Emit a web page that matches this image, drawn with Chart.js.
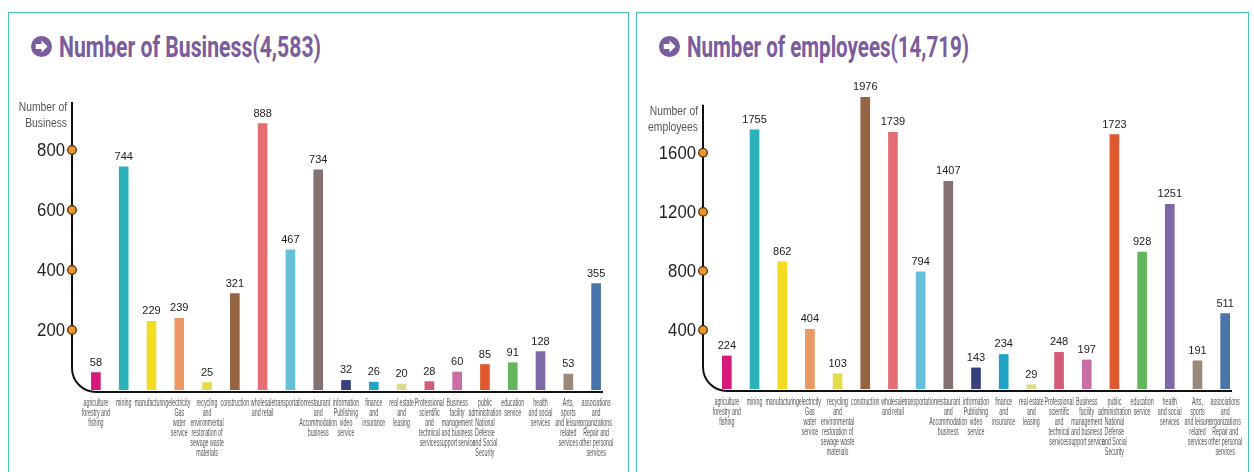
<!DOCTYPE html>
<html>
<head>
<meta charset="utf-8">
<script src="https://cdn.jsdelivr.net/npm/chart.js@4/dist/chart.umd.min.js"></script>
<style>
  html, body { margin:0; padding:0; background:#fff; width:1254px; height:472px; overflow:hidden; }
  .panel { position:absolute; top:12px; height:480px; border:1.5px solid #45c1b5; box-sizing:border-box; }
  .title { position:absolute; top:29px; height:34px; display:flex; align-items:center; white-space:nowrap;
           font-family:Roboto,'Liberation Sans',sans-serif; font-weight:bold;
           font-size:30px; color:#7b5c9c; }
  .title svg { margin-right:7px; flex:none; }
  .title span { display:inline-block; transform-origin:left center; }
  canvas { position:absolute; }
</style>
</head>
<body>
<div class="panel" style="left:8px; width:621px;"></div>
<div class="panel" style="left:636px; width:613px;"></div>

<div class="title" style="left:31px;">
  <svg width="21" height="21" viewBox="0 0 20 20"><circle cx="10" cy="10" r="10" fill="#7b5c9c"/><path d="M4.5 7.6 H10 V4.3 L15.8 10 L10 15.7 V12.4 H4.5 Z" fill="#fff"/></svg>
  <span data-w="262">Number of Business(4,583)</span>
</div>
<div class="title" style="left:659px;">
  <svg width="21" height="21" viewBox="0 0 20 20"><circle cx="10" cy="10" r="10" fill="#7b5c9c"/><path d="M4.5 7.6 H10 V4.3 L15.8 10 L10 15.7 V12.4 H4.5 Z" fill="#fff"/></svg>
  <span data-w="282">Number of employees(14,719)</span>
</div>

<canvas id="c1" width="632" height="412" style="left:0px; top:60px; width:632px; height:412px;"></canvas>
<canvas id="c2" width="622" height="412" style="left:632px; top:60px; width:622px; height:412px;"></canvas>

<script>
const categories = [
  ["agriculture","forestry and","fishing"],
  ["mining"],
  ["manufacturing"],
  ["electricity","Gas","water","service"],
  ["recycling","and","environmental","restoration of","sewage waste","materials"],
  ["construction"],
  ["wholesale","and retail"],
  ["transportation"],
  ["restaurant","and","Accommodation","business"],
  ["information","Publishing","video","service"],
  ["finance","and","insurance"],
  ["real estate","and","leasing"],
  ["Professional","scientific","and","technical","services"],
  ["Business","facility","management","and business","support service"],
  ["public","administration","National","Defense","and Social","Security"],
  ["education","service"],
  ["health","and social","services"],
  ["Arts,","sports","and leisure","related","services"],
  ["associations","and","organizations","Repair and","other personal","services"]
];
const businessCounts = [58, 744, 229, 239, 25, 321, 888, 467, 734, 32, 26, 20, 28, 60, 85, 91, 128, 53, 355];
const employeeCounts = [224, 1755, 862, 404, 103, 1976, 1739, 794, 1407, 143, 234, 29, 248, 197, 1723, 928, 1251, 191, 511];
const barColors = ["#d6197a","#2bb1b9","#f2dc22","#ec9862","#e3da4c","#956543","#e56e72","#68bfd9","#857171","#36407f",
                   "#22a3c6","#dcdc8c","#d35a78","#c86ea4","#de5a2e","#63b65e","#7e68a8","#9a887a","#4a74aa"];
const businessTicks = [200, 400, 600, 800];
const employeeTicks = [400, 800, 1200, 1600];

// fit title widths
document.querySelectorAll('.title span').forEach(s => {
  const w = s.getBoundingClientRect().width;
  s.style.transform = 'scaleX(' + (parseFloat(s.dataset.w) / w) + ')';
});

const SANS = "'Liberation Sans', Arial, sans-serif";

function scaledText(ctx, text, x, y, sx) {
  ctx.save();
  ctx.translate(x, y);
  ctx.scale(sx, 1);
  ctx.fillText(text, 0, 0);
  ctx.restore();
}

const decorPlugin = {
  id: 'decor',
  afterDatasetsDraw(chart, args, opts) {
    const ctx = chart.ctx, ca = chart.chartArea, y = chart.scales.y, x = chart.scales.x;
    const ax = ca.left - 10;
    const base = ca.bottom + 2;
    const r = 24;
    const top = y.getPixelForValue(opts.axisTop);
    ctx.save();
    // axis line with rounded corner into the baseline
    ctx.strokeStyle = '#111';
    ctx.lineWidth = 2;
    ctx.beginPath();
    ctx.moveTo(ax, top);
    ctx.lineTo(ax, base - r);
    ctx.arcTo(ax, base, ax + r, base, r);
    ctx.lineTo(ca.right - 7, base);
    ctx.stroke();
    // tick dots and tick labels
    ctx.textAlign = 'right';
    ctx.textBaseline = 'middle';
    opts.ticks.forEach(v => {
      const py = y.getPixelForValue(v);
      ctx.beginPath();
      ctx.arc(ax, py, 4.3, 0, Math.PI * 2);
      ctx.fillStyle = '#f0932b';
      ctx.fill();
      ctx.lineWidth = 1.2;
      ctx.strokeStyle = '#3a2a10';
      ctx.stroke();
      ctx.fillStyle = '#222';
      ctx.font = '19px ' + SANS;
      scaledText(ctx, String(v), ax - 7, py + 1, 0.88);
    });
    // axis title
    ctx.fillStyle = '#555';
    ctx.font = '12px ' + SANS;
    ctx.textAlign = 'right';
    opts.title.forEach((t, i) => scaledText(ctx, t, ax - 5, top + opts.titleOffset + i * 15.5, 0.86));
    // category labels
    ctx.fillStyle = '#555';
    ctx.font = '10px ' + SANS;
    ctx.textAlign = 'center';
    chart.data.labels.forEach((lines, i) => {
      const px = x.getPixelForValue(i);
      lines.forEach((t, k) => scaledText(ctx, t, px, ca.bottom + 13.5 + k * 10, 0.53));
    });
    // value labels
    ctx.fillStyle = '#222';
    ctx.font = '11px ' + SANS;
    ctx.textAlign = 'center';
    const meta = chart.getDatasetMeta(0);
    meta.data.forEach((bar, i) => {
      ctx.fillText(String(chart.data.datasets[0].data[i]), bar.x, bar.y - 10);
    });
    ctx.restore();
  }
};

function makeChart(id, values, cfg) {
  return new Chart(document.getElementById(id), {
    type: 'bar',
    data: {
      labels: categories,
      datasets: [{ data: values, backgroundColor: barColors, barThickness: 9, borderWidth: 0 }]
    },
    options: {
      responsive: false,
      animation: false,
      devicePixelRatio: 1,
      layout: { padding: cfg.padding },
      plugins: {
        legend: { display: false },
        tooltip: { enabled: false },
        decor: { axisTop: cfg.axisTop, ticks: cfg.ticks, title: cfg.title, titleOffset: cfg.titleOffset }
      },
      scales: {
        x: { display: false },
        y: { display: false, min: 0, max: cfg.max }
      }
    },
    plugins: [decorPlugin]
  });
}

makeChart('c1', businessCounts, {
  max: 960, axisTop: 960, ticks: businessTicks,
  padding: { left: 82, right: 22, top: 42, bottom: 82 },
  title: ["Number of", "Business"], titleOffset: 6
});
makeChart('c2', employeeCounts, {
  max: 2100, axisTop: 1925, ticks: employeeTicks,
  padding: { left: 81, right: 15, top: 19, bottom: 83 },
  title: ["Number of", "employees"], titleOffset: 7
});
</script>
</body>
</html>
